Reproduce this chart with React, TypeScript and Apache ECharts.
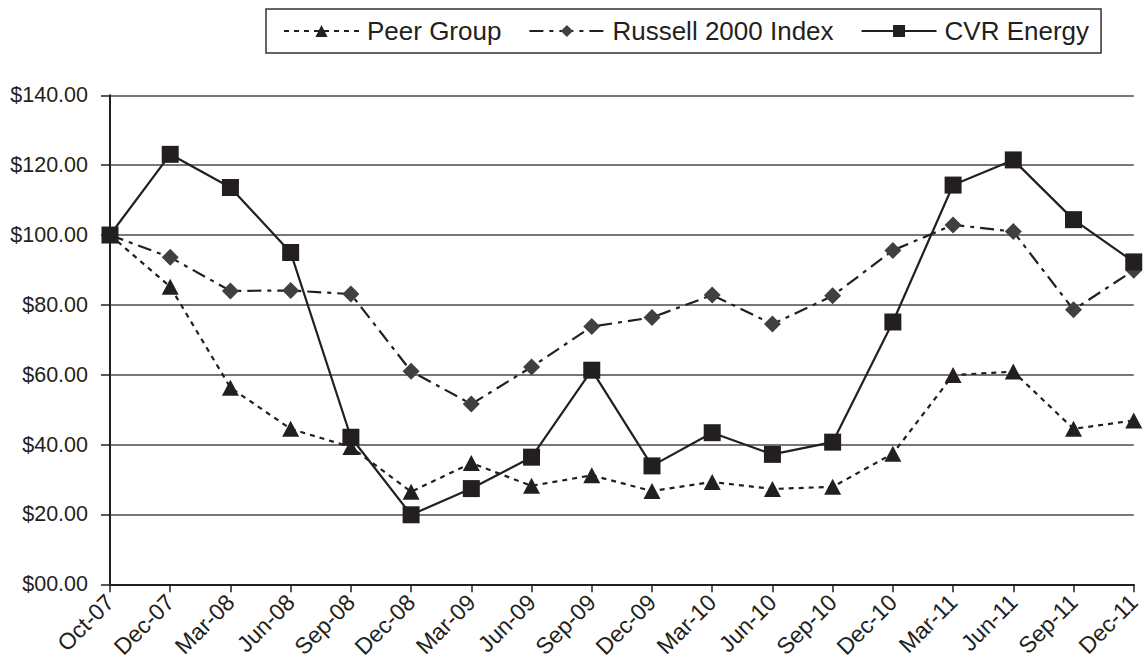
import React, { useEffect, useRef } from "react";
import * as echarts from "echarts";

const categories = [
  "Oct-07", "Dec-07", "Mar-08", "Jun-08", "Sep-08", "Dec-08", "Mar-09", "Jun-09", "Sep-09",
  "Dec-09", "Mar-10", "Jun-10", "Sep-10", "Dec-10", "Mar-11", "Jun-11", "Sep-11", "Dec-11",
];
const peerGroup = [100, 85.2, 56.3, 44.5, 39.3, 26.5, 34.7, 28.2, 31.2, 26.7, 29.3, 27.3, 27.9, 37.4, 59.9, 60.9, 44.5, 46.9];
const russell2000 = [100, 93.6, 84.0, 84.1, 83.1, 61.0, 51.6, 62.2, 73.8, 76.4, 82.8, 74.5, 82.6, 95.6, 102.9, 101.0, 78.6, 89.9];
const cvrEnergy = [100, 123.1, 113.6, 95.0, 42.1, 19.9, 27.4, 36.4, 61.3, 33.9, 43.4, 37.2, 40.7, 75.1, 114.3, 121.5, 104.4, 92.3];
const yTicks = [0, 20, 40, 60, 80, 100, 120, 140];

const FONT = "'Liberation Sans', Arial, Helvetica, sans-serif";
const INK = "#231f20";

export default function App() {
  const ref = useRef<HTMLDivElement>(null);
  useEffect(() => {
    if (!ref.current) return;
    const chart = echarts.init(ref.current, undefined, { renderer: "svg" });
    chart.setOption({
      animation: false,
      backgroundColor: "#ffffff",
      textStyle: { fontFamily: FONT },
      legend: {
        left: 266,
        top: 9,
        padding: [8, 12, 8, 17],
        borderColor: "#333",
        borderWidth: 1.5,
        itemWidth: 75,
        itemHeight: 15,
        itemGap: 27,
        selectedMode: false,
        textStyle: { fontSize: 26, color: INK, fontFamily: FONT, lineHeight: 28, padding: [0, 0, 0, 3] },
        data: ["Peer Group", "Russell 2000 Index", "CVR Energy"],
      },
      grid: { left: 110, top: 95.3, width: 1032.5, height: 493, containLabel: false },
      xAxis: {
        type: "category",
        data: categories,
        boundaryGap: false,
        axisLine: { lineStyle: { color: INK, width: 2 } },
        axisTick: { show: true, length: 8, alignWithLabel: true, lineStyle: { color: INK, width: 1.5 } },
        axisLabel: { rotate: 45, fontSize: 23, color: INK, margin: 14, fontFamily: FONT, interval: 0 },
      },
      yAxis: {
        type: "value",
        min: yTicks[0],
        max: yTicks[yTicks.length - 1],
        interval: 20,
        axisLine: { show: true, lineStyle: { color: INK, width: 2 } },
        axisTick: { show: true, length: 9, lineStyle: { color: INK, width: 1.5 } },
        axisLabel: {
          fontSize: 21.5,
          color: INK,
          margin: 22,
          fontFamily: FONT,
          formatter: (v: number) => "$" + (v < 10 ? "0" + v.toFixed(2) : v.toFixed(2)),
        },
        splitLine: { show: true, lineStyle: { color: "#4a4a4a", width: 1.5 } },
      },
      series: [
        {
          name: "Peer Group",
          type: "line",
          data: peerGroup,
          symbol: "triangle",
          symbolSize: [17, 16],
          itemStyle: { color: INK },
          lineStyle: { color: INK, width: 2.2, type: [5, 5] },
          z: 2,
        },
        {
          name: "Russell 2000 Index",
          type: "line",
          data: russell2000,
          symbol: "diamond",
          symbolSize: [17, 17],
          itemStyle: { color: "#404042" },
          lineStyle: { color: INK, width: 2.2, type: [14, 6, 4, 6] },
          z: 3,
        },
        {
          name: "CVR Energy",
          type: "line",
          data: cvrEnergy,
          symbol: "rect",
          symbolSize: 17,
          itemStyle: { color: INK },
          lineStyle: { color: INK, width: 2.2, type: "solid" },
          z: 4,
        },
      ],
    });
    return () => chart.dispose();
  }, []);
  return (
    <div
      ref={ref}
      style={{ position: "fixed", left: 0, top: 0, width: 1144, height: 661, background: "#fff" }}
    />
  );
}
